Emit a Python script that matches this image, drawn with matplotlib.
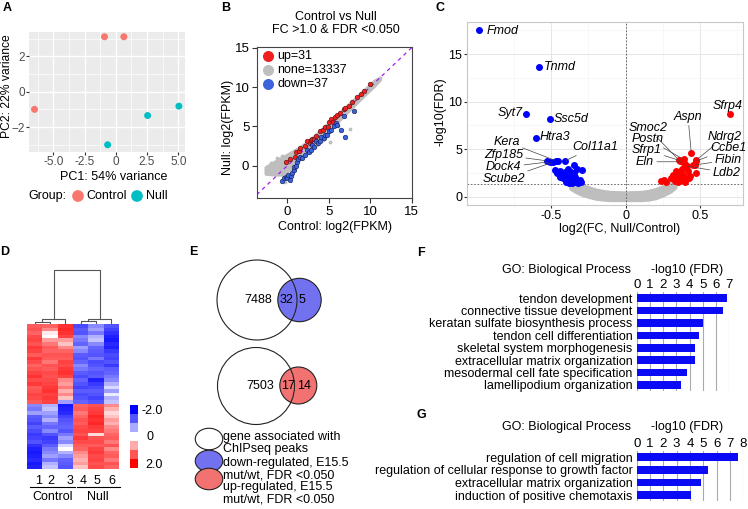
import matplotlib.pyplot as plt
from matplotlib.patches import Circle, Ellipse, Rectangle
from matplotlib.colors import LinearSegmentedColormap
import numpy as np

plt.rcParams['font.family'] = ['Liberation Sans', 'DejaVu Sans']
plt.rcParams['font.size'] = 9

W, H = 748, 509


# axes rectangle from pixel corners (top-left origin)
def box(x0, y0, x1, y1):
    return [x0 / W, 1 - y1 / H, (x1 - x0) / W, (y1 - y0) / H]


# ---------------- data ----------------
# A: PCA
pca_group = ['Control', 'Control', 'Control', 'Null', 'Null', 'Null']
pc1 = [-6.5, -0.9, 0.65, -0.65, 2.55, 5.05]
pc2 = [-1.0, 3.1, 3.1, -3.0, -1.35, -0.82]

# B: Control vs Null scatter
up_x = [-0.2, 0.3, 0.9, 1.1, 1.4, 1.6, 2.1, 2.4, 2.7, 2.9, 3.0, 3.25, 3.5, 3.9, 4.3, 4.5,
        4.9, 5.1, 5.3, 5.5, 5.8, 6.0, 6.4, 6.8, 7.0, 7.4, 7.8, 8.4, 8.9, 9.3, 10.0]
up_y = [0.5, 0.8, 1.15, 1.7, 1.9, 2.3, 2.45, 3.1, 2.9, 3.3, 3.4, 3.45, 3.8, 4.4, 4.55, 4.9,
        4.9, 5.6, 5.9, 5.6, 6.15, 6.5, 6.75, 7.2, 7.4, 7.6, 8.1, 8.7, 9.1, 9.5, 10.35]
down_x = [-0.6, -0.4, -0.2, 0.0, 0.1, 0.3, 0.5, 0.6, 0.8, 0.8, 1.0, 1.2, 1.3, 1.5, 1.8, 2.1,
          2.4, 2.6, 2.9, 3.0, 3.2, 3.5, 3.7, 3.9, 4.1, 4.4, 4.6, 4.8, 5.0, 5.3, 5.6, 5.9,
          6.0, 6.5, 6.9, 7.0, 8.1]
down_y = [-1.9, -1.6, -1.4, -1.6, -1.2, -1.8, -1.3, -0.9, -0.5, -0.2, 0.0, 0.5, 0.9, 1.1, 1.0,
          1.35, 2.0, 1.7, 2.0, 2.7, 2.4, 3.2, 2.9, 3.2, 3.7, 3.5, 3.9, 3.9, 4.45, 4.6, 5.0,
          5.4, 5.2, 4.5, 6.3, 3.7, 6.9]
band_x = [-2.6, -1.5, -0.5, 0.5, 1.5, 3.0, 5.0, 7.0, 9.0, 10.5, 11.2]
band_lo = [-1.0, -1.1, -1.1, -0.3, 0.9, 2.5, 4.5, 6.6, 8.7, 10.2, 11.0]
band_hi = [-0.2, 0.5, 1.1, 1.7, 2.3, 3.5, 5.45, 7.4, 9.3, 10.8, 11.2]
none_x = [-1.28, -1.0, 0.12, -0.28, 4.34, 5.14, 7.55, 8.96, 6.1, 2.2, 3.6, -2.0, -0.6]
none_y = [0.94, 0.8, 0.72, -2.03, 3.27, 3.05, 4.62, 8.56, 5.1, 1.4, 2.6, 0.3, 1.3]

# C: volcano
c_down_x = [-0.347, -0.293, -0.477, -0.459, -0.432, -0.409, -0.387, -0.369, -0.443, -0.421,
            -0.398, -0.383, -0.354, -0.36, -0.331, -0.32, -0.398, -0.342, -0.364, -0.309,
            -0.44, -0.35, -0.3, -0.38, -0.42, -0.33, -0.455]
c_down_y = [3.34, 2.81, 2.81, 2.53, 2.39, 2.63, 2.88, 2.28, 2.1, 1.94, 2.04, 1.76, 1.83, 1.47,
            1.58, 1.41, 1.58, 2.1, 2.63, 1.76, 2.7, 2.45, 1.5, 1.45, 2.2, 2.9, 3.8]
c_up_x = [0.45, 0.47, 0.38, 0.362, 0.344, 0.318, 0.307, 0.273, 0.257, 0.329, 0.374, 0.403,
          0.425, 0.395, 0.42, 0.24, 0.35, 0.43, 0.385, 0.34, 0.4]
c_up_y = [3.3, 2.53, 2.88, 2.46, 2.04, 2.28, 1.94, 1.58, 1.76, 1.68, 1.76, 1.94, 1.94, 3.4,
          2.7, 1.7, 1.5, 2.2, 2.25, 2.7, 1.6]
c_none_x = [-0.37, -0.34, -0.3, -0.25, -0.2, -0.15, -0.1, 0.0, 0.1, 0.15, 0.2, 0.25, 0.3, 0.33]
c_none_hi = [1.55, 1.5, 1.25, 0.95, 0.7, 0.55, 0.45, 0.4, 0.45, 0.55, 0.75, 1.05, 1.45, 1.55]
c_none_lo = [0.9, 0.6, 0.3, 0.05, -0.15, -0.25, -0.3, -0.3, -0.3, -0.25, -0.1, 0.2, 0.6, 1.0]
c_genes = ['Fmod', 'Tnmd', 'Syt7', 'Ssc5d', 'Htra3', 'Kera', 'Zfp185', 'Dock4', 'Scube2',
           'Col11a1', 'Sfrp4', 'Aspn', 'Smoc2', 'Postn', 'Sfrp1', 'Eln', 'Ndrg2', 'Ccbe1',
           'Fibin', 'Ldb2']
c_gene_fc = [-0.985, -0.58, -0.67, -0.51, -0.6, -0.47, -0.53, -0.51, -0.49, -0.41, 0.698,
             0.44, 0.357, 0.389, 0.365, 0.385, 0.474, 0.47, 0.463, 0.41]
c_gene_fdr = [17.6, 13.7, 8.67, 8.15, 6.2, 3.8, 3.78, 3.68, 3.62, 3.76, 8.67, 4.57, 3.86,
              3.93, 3.8, 3.68, 3.86, 3.72, 3.34, 3.23]
c_gene_down = 10  # first 10 genes are down-regulated

# D: heatmap (z-scores, 6 samples)
heat_rows = [
    [0.9, 0.8, 1.4, -1.1, -0.6, -1.0],
    [1.0, 0.6, 1.5, -0.9, -0.5, -1.2],
    [0.8, 0.1, 1.4, -1.0, -0.7, -1.4],
    [1.1, 0.0, 1.2, -0.6, -0.4, -1.6],
    [1.2, 0.5, 0.5, -0.7, -0.3, -1.7],
    [1.0, 0.7, 0.3, -0.8, -0.6, -1.5],
    [1.3, 0.9, 0.6, -0.5, -0.8, -1.6],
    [1.2, 0.8, 0.8, -0.6, -0.9, -1.3],
    [0.9, 1.0, 1.0, -0.9, -1.0, -1.1],
    [1.3, 0.9, 0.9, -1.0, -0.7, -1.2],
    [1.1, 0.7, 1.2, -0.8, -1.1, -1.0],
    [0.8, 1.0, 1.1, -0.6, -1.0, -1.3],
    [1.0, 0.9, 1.3, -0.7, -0.8, -0.9],
    [1.2, 1.1, 1.4, -0.9, -1.0, -0.8],
    [1.4, 1.0, 1.2, -1.1, -0.9, -0.7],
    [1.1, 1.1, 0.6, -0.8, -1.6, -0.6],
    [1.3, 1.2, 0.5, -1.0, -1.3, -0.4],
    [0.9, 1.3, 0.7, -1.2, -1.1, -0.2],
    [1.0, 1.4, 0.4, -0.9, -0.9, -0.5],
    [1.2, 1.2, 0.6, -1.1, -1.0, -0.1],
    [1.1, 1.3, 0.3, -1.0, -1.2, -0.4],
    [0.9, 1.2, -0.5, -0.8, -1.0, -0.3],
    [-0.6, -0.4, -1.7, 0.8, 1.0, 0.6],
    [-0.7, -0.3, -1.6, 0.9, 1.2, 0.4],
    [-0.5, -0.5, -1.5, 0.7, 1.3, 0.2],
    [-0.9, -0.6, -1.2, 0.8, 1.5, 0.3],
    [-1.0, -0.4, -1.0, 1.0, 1.4, 0.5],
    [-1.2, -0.7, -0.9, 0.9, 1.5, 0.4],
    [-0.9, -0.8, -0.8, 1.1, 1.3, 0.6],
    [-1.1, -0.6, -1.0, 1.2, 1.2, 0.7],
    [-1.3, -1.0, -0.7, 1.0, 0.2, 0.8],
    [-1.2, -1.3, -0.5, 1.3, 1.0, 0.9],
    [-1.0, -1.2, -0.6, 1.1, 1.1, 0.7],
    [-1.4, -0.9, -0.2, 0.9, 0.9, 1.0],
    [-1.6, -0.7, 0.0, 0.8, 1.2, 0.6],
    [-1.7, -0.6, -0.4, 0.6, 1.3, 0.8],
    [-1.6, -0.5, -0.6, 0.5, 1.1, 0.9],
    [-1.5, -0.7, -0.8, 0.4, 1.2, 0.7],
    [-1.7, -0.4, -0.9, 0.5, 1.0, 1.0],
    [-1.6, -0.3, -1.0, 0.3, 1.1, 0.8],
]
samples = ['1', '2', '3', '4', '5', '6']
# dendrogram merges: (left x, right x, height, left child h, right child h)
dendro = [(0, 1, 0.045, 0, 0), (0.5, 2, 0.095, 0.045, 0), (3, 4, 0.05, 0, 0),
          (3.5, 5, 0.10, 0.05, 0), (1.25, 4.25, 1.0, 0.095, 0.10)]
cbar_colors = ['#0000FF', '#5555FF', '#AAAAFF', '#FFFFFF', '#FFAAAA', '#FF5555', '#FF0000']

# E: Venn counts
venn_down = [7488, 32, 5]
venn_up = [7503, 17, 14]

# F, G: GO terms
go_f_terms = ['tendon development', 'connective tissue development',
              'keratan sulfate biosynthesis process', 'tendon cell differentiation',
              'skeletal system morphogenesis', 'extracellular matrix organization',
              'mesodermal cell fate specification', 'lamellipodium organization']
go_f_vals = [6.87, 6.56, 5.05, 4.7, 4.39, 4.39, 3.79, 3.38]
go_g_terms = ['regulation of cell migration',
              'regulation of cellular response to growth factor',
              'extracellular matrix organization', 'induction of positive chemotaxis']
go_g_vals = [7.6, 5.34, 4.84, 4.08]

fig = plt.figure(figsize=(W / 100, H / 100), dpi=100)

# ---------------- A ----------------
ax_a = fig.add_axes(box(29, 32, 185, 152))
ax_a.set_facecolor('#EBEBEB')
pca_colors = {'Control': '#F8766D', 'Null': '#00BFC4'}
ax_a.scatter(pc1, pc2, s=16, c=[pca_colors[g] for g in pca_group], zorder=3)
ax_a.set_xlim(-6.94, 5.54)
ax_a.set_ylim(-3.41, 3.37)
ax_a.set_xticks([-5, -2.5, 0, 2.5, 5], ['-5.0', '-2.5', '0', '2.5', '5.0'])
ax_a.set_yticks([-2, 0, 2])
ax_a.set_xticks([-6.25, -3.75, -1.25, 1.25, 3.75], minor=True)
ax_a.set_yticks([-3, -1, 1, 3], minor=True)
ax_a.grid(which='major', color='white', lw=1.0)
ax_a.grid(which='minor', color='white', lw=0.5)
ax_a.set_axisbelow(True)
ax_a.tick_params(which='major', length=2, color='#333333', labelcolor='#4D4D4D',
                 labelsize=8.5, pad=1)
ax_a.tick_params(which='minor', length=0)
for s in ax_a.spines.values():
    s.set_visible(False)

# ---------------- B ----------------
ax_b = fig.add_axes(box(257, 47, 412, 198))
ax_b.fill_between(band_x, band_lo, band_hi, color='#BEBEBE', lw=2.5, edgecolor='#BEBEBE')
ax_b.scatter(none_x, none_y, s=3, color='#BEBEBE')
ax_b.plot([-5, 16], [-5, 16], ls=(0, (3, 3)), color='#A020F0', lw=0.9)
ax_b.scatter(up_x, up_y, s=11, color='#F02020', edgecolor='#501010', lw=0.4, zorder=3)
ax_b.scatter(down_x, down_y, s=11, color='#3A64DC', edgecolor='#101850', lw=0.4, zorder=3)
ax_b.set_xlim(-3.65, 15.06)
ax_b.set_ylim(-4.1, 15.1)
ax_b.set_xticks([0, 5, 10, 15])
ax_b.set_yticks([0, 5, 10, 15])
ax_b.tick_params(length=3.5, labelsize=9.5, pad=2, color='#333333')
for s in ax_b.spines.values():
    s.set_color('#444444')
    s.set_linewidth(0.8)
leg_items = [('up=31', '#F02020'), ('none=13337', '#BEBEBE'), ('down=37', '#3A64DC')]
for i, (lab, col) in enumerate(leg_items):
    yy = 0.942 - i * 0.095
    ax_b.scatter([0.073], [yy], s=48, color=col, transform=ax_b.transAxes, clip_on=False)
    ax_b.text(0.13, yy, lab, transform=ax_b.transAxes, va='center', ha='left', fontsize=9)

# ---------------- C ----------------
ax_c = fig.add_axes(box(467, 22, 743, 205))
ax_c.set_xlim(-1.065, 0.787)
ax_c.set_ylim(-0.87, 18.39)
ax_c.set_xticks([-0.5, 0, 0.5], ['-0.5', '0', '0.5'])
ax_c.set_yticks([0, 5, 10, 15])
ax_c.set_xticks([-0.75, -0.25, 0.25, 0.75], minor=True)
ax_c.set_yticks([2.5, 7.5, 12.5, 17.5], minor=True)
ax_c.grid(which='major', color='#E6E6E6', lw=0.7)
ax_c.grid(which='minor', color='#F2F2F2', lw=0.4)
ax_c.set_axisbelow(True)
ax_c.tick_params(which='major', length=2, color='#333333', labelsize=9, pad=1.5)
ax_c.tick_params(which='minor', length=0)
for s in ax_c.spines.values():
    s.set_color('#C8C8C8')
    s.set_linewidth(0.8)
ax_c.fill_between(c_none_x, c_none_lo, c_none_hi, color='#BEBEBE', lw=3, edgecolor='#BEBEBE')
ax_c.axvline(0, ls=(0, (2, 2)), color='#555555', lw=0.6)
ax_c.axhline(-np.log10(0.05), ls=(0, (2, 2)), color='#555555', lw=0.6)
ax_c.scatter(c_down_x, c_down_y, s=16, color='#0000FF', zorder=3)
ax_c.scatter(c_up_x, c_up_y, s=16, color='#FF0000', zorder=3)
ax_c.scatter(c_gene_fc[:c_gene_down], c_gene_fdr[:c_gene_down], s=16, color='#0000FF', zorder=3)
ax_c.scatter(c_gene_fc[c_gene_down:], c_gene_fdr[c_gene_down:], s=16, color='#FF0000', zorder=3)
# label placement: (text x, text y, ha, leader line)
c_label_pos = {
    'Fmod': (-0.935, 17.44, 'left', False), 'Tnmd': (-0.55, 13.7, 'left', False),
    'Syt7': (-0.69, 8.84, 'right', False), 'Ssc5d': (-0.483, 8.15, 'left', False),
    'Htra3': (-0.577, 6.25, 'left', False), 'Kera': (-0.80, 5.79, 'center', True),
    'Zfp185': (-0.82, 4.39, 'center', True), 'Dock4': (-0.82, 3.09, 'center', True),
    'Scube2': (-0.82, 1.83, 'center', True), 'Col11a1': (-0.36, 5.26, 'left', True),
    'Sfrp4': (0.687, 9.5, 'center', False), 'Aspn': (0.418, 8.42, 'center', True),
    'Smoc2': (0.15, 7.2, 'center', True), 'Postn': (0.15, 6.07, 'center', True),
    'Sfrp1': (0.14, 4.92, 'center', True), 'Eln': (0.13, 3.68, 'center', True),
    'Ndrg2': (0.664, 6.32, 'center', True), 'Ccbe1': (0.687, 5.09, 'center', True),
    'Fibin': (0.687, 3.86, 'center', True), 'Ldb2': (0.676, 2.53, 'center', True),
}
for g, gx, gy in zip(c_genes, c_gene_fc, c_gene_fdr):
    tx, ty, ha, line = c_label_pos[g]
    if line:
        ax_c.annotate(g, xy=(gx, gy), xytext=(tx, ty), ha=ha, va='center', fontsize=9,
                      style='italic',
                      arrowprops=dict(arrowstyle='-', color='#444444', lw=0.5,
                                      shrinkA=0, shrinkB=1))
    else:
        ax_c.text(tx, ty, g, ha=ha, va='center', fontsize=9, style='italic')

# ---------------- D ----------------
heat = np.array(heat_rows)
heat_cmap = LinearSegmentedColormap.from_list(
    'bwr2', [(0, '#0000FF'), (0.3, '#6464FF'), (0.5, '#FFFFFF'), (0.7, '#FF6464'), (1, '#FF0000')])
ax_h = fig.add_axes(box(27, 324, 119, 469))
ax_h.imshow(heat, aspect='auto', cmap=heat_cmap, vmin=-2, vmax=2, interpolation='nearest')
ax_h.axis('off')

ax_dd = fig.add_axes(box(27, 262, 119, 324))
for xl, xr, h, hl, hr in dendro:
    ax_dd.plot([xl, xl, xr, xr], [hl, h, h, hr], color='#555555', lw=0.8)
ax_dd.set_xlim(-0.5, 5.5)
ax_dd.set_ylim(0, 1.15)
ax_dd.axis('off')

ax_cb = fig.add_axes(box(130, 405, 138, 468))
for i, col in enumerate(cbar_colors):
    ax_cb.add_patch(Rectangle((0, i), 1, 1, color=col, lw=0))
ax_cb.set_xlim(0, 1)
ax_cb.set_ylim(len(cbar_colors), 0)
ax_cb.axis('off')


# ---------------- F / G ----------------
def go_bars(rect, terms, vals, xmax):
    ax = fig.add_axes(rect)
    pos = np.arange(len(terms))
    ax.barh(pos, vals, height=0.62, color='#0A0AF5', zorder=3)
    ax.set_ylim(len(terms) - 0.5, -0.5)
    ax.set_xlim(0, xmax)
    ax.set_xticks(range(0, int(xmax) + 1))
    ax.set_yticks(pos, terms)
    ax.xaxis.tick_top()
    ax.tick_params(axis='x', length=0, pad=1, labelsize=9.5)
    ax.tick_params(axis='y', length=0, pad=3, labelsize=9)
    ax.grid(axis='x', color='#AAAAAA', lw=0.8)
    ax.set_axisbelow(True)
    for s in ax.spines.values():
        s.set_visible(False)
    return ax


go_bars(box(636.7, 292, 729.2, 391.2), go_f_terms, go_f_vals, 7.0)
go_bars(box(636.7, 451, 743.2, 501.3), go_g_terms, go_g_vals, 8.0)

# ---------------- overlay: letters, labels, Venn ----------------
ov = fig.add_axes([0, 0, 1, 1])
ov.set_xlim(0, W)
ov.set_ylim(H, 0)
ov.axis('off')

for letter, lx, ly in [('A', 7, 8), ('B', 226, 8), ('C', 440, 8), ('D', 5, 252),
                       ('E', 193, 252), ('F', 421, 253), ('G', 421, 415)]:
    ov.text(lx, ly, letter, fontsize=9, fontweight='bold', ha='center', va='center')

# A labels
ov.text(114, 177.5, 'PC1: 54% variance', ha='center', va='center', fontsize=9)
ov.text(0.5, 86, 'PC2: 22% variance', ha='left', va='center', rotation=90, fontsize=8.7)
ov.text(28, 196, 'Group:', ha='left', va='center', fontsize=9)
ov.scatter([78, 137], [196, 196], s=55, color=[pca_colors['Control'], pca_colors['Null']])
ov.text(86, 196, 'Control', ha='left', va='center', fontsize=9)
ov.text(146, 196, 'Null', ha='left', va='center', fontsize=9)

# B labels
ov.text(336, 17, 'Control vs Null', ha='center', va='center', fontsize=9)
ov.text(336, 30, 'FC >1.0 & FDR <0.050', ha='center', va='center', fontsize=9)
ov.text(335, 227, 'Control: log2(FPKM)', ha='center', va='center', fontsize=9)
ov.text(228, 127, 'Null: log2(FPKM)', ha='center', va='center', rotation=90, fontsize=9)

# C labels
ov.text(620, 229, 'log2(FC, Null/Control)', ha='center', va='center', fontsize=9)
ov.text(441, 112, '-log10(FDR)', ha='center', va='center', rotation=90, fontsize=9)

# D labels
col_lab_x = [38.3, 51, 70, 83.3, 96.7, 111.7]
for lab, lx in zip(samples, col_lab_x):
    ov.text(lx, 480.5, lab, ha='center', va='center', fontsize=9)
ov.plot([30, 75], [487.3, 487.3], color='black', lw=0.8)
ov.plot([77.3, 120], [487.3, 487.3], color='black', lw=0.8)
ov.text(53, 497.5, 'Control', ha='center', va='center', fontsize=9)
ov.text(98, 497.5, 'Null', ha='center', va='center', fontsize=9)
ov.text(142, 410.5, '-2.0', ha='left', va='center', fontsize=9)
ov.text(146.5, 436.5, '0', ha='left', va='center', fontsize=9)
ov.text(145, 465, '2.0', ha='left', va='center', fontsize=9)

# E Venn
venn_blue = '#7272F0'
venn_red = '#F27272'
ov.add_patch(Circle((299.5, 300), 21.7, facecolor=venn_blue, edgecolor='#222222', lw=0.8))
ov.add_patch(Circle((257, 300), 40, facecolor='none', edgecolor='#222222', lw=0.8))
ov.text(258.3, 300, str(venn_down[0]), ha='center', va='center', fontsize=9)
ov.text(286.7, 300, str(venn_down[1]), ha='center', va='center', fontsize=9)
ov.text(302.3, 300, str(venn_down[2]), ha='center', va='center', fontsize=9)
ov.add_patch(Circle((298.3, 385.5), 18.5, facecolor=venn_red, edgecolor='#222222', lw=0.8))
ov.add_patch(Circle((256, 386), 38.5, facecolor='none', edgecolor='#222222', lw=0.8))
ov.text(260.7, 386, str(venn_up[0]), ha='center', va='center', fontsize=9)
ov.text(288, 386, str(venn_up[1]), ha='center', va='center', fontsize=9)
ov.text(303.7, 386, str(venn_up[2]), ha='center', va='center', fontsize=9)

ov.add_patch(Ellipse((209, 439), 27.5, 21.5, facecolor='white', edgecolor='#222222', lw=0.8))
ov.add_patch(Ellipse((209, 461), 27.5, 21.5, facecolor=venn_blue, edgecolor='#222222', lw=0.8))
ov.add_patch(Ellipse((209, 479), 27.5, 21.5, facecolor=venn_red, edgecolor='#222222', lw=0.8))
legend_lines = [('gene associated with', 436.7), ('ChIPseq peaks', 449.3),
                ('down-regulated, E15.5', 462.7), ('mut/wt, FDR <0.050', 476),
                ('up-regulated, E15.5', 486.7), ('mut/wt, FDR <0.050', 500)]
for txt, ty in legend_lines:
    ov.text(223.3, ty, txt, ha='left', va='center', fontsize=9)

# F / G headers
for hy in [270, 426.7]:
    ov.text(630.7, hy, 'GO: Biological Process', ha='right', va='center', fontsize=9)
    ov.text(686.7, hy, '-log10 (FDR)', ha='center', va='center', fontsize=9)

fig.savefig('out.png', dpi=100)
